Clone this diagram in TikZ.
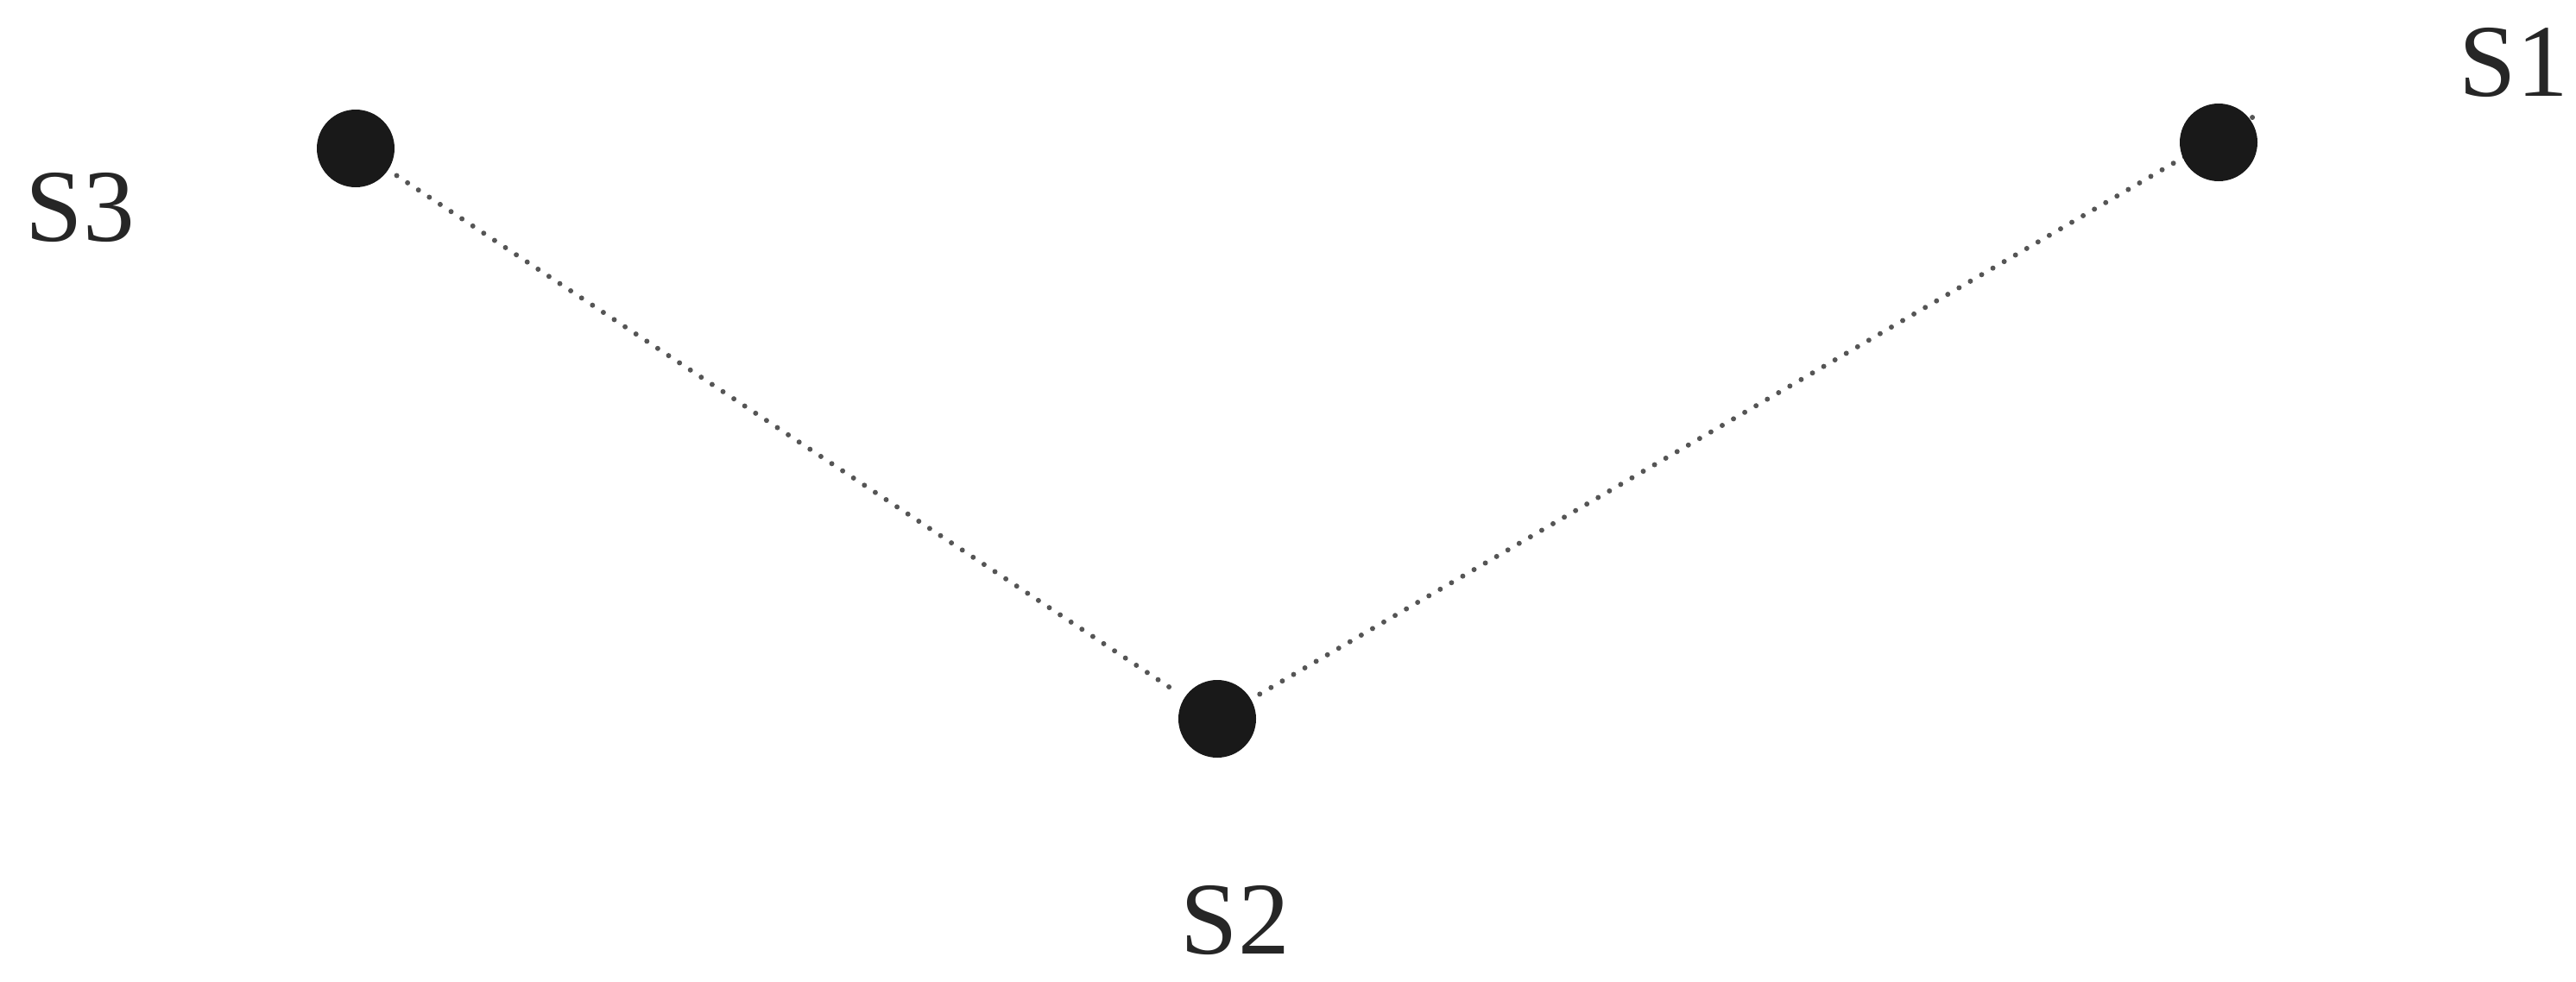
\documentclass[tikz,border=0pt]{standalone}
\usepackage{fontspec}
\setmainfont{Liberation Serif}
\usetikzlibrary{backgrounds}
\definecolor{linkgray}{HTML}{555555}

\begin{document}
\begin{tikzpicture}[
    site/.style={circle, fill=black!90, minimum size=0.9cm, inner sep=0pt, outer sep=0.12cm},
    tag/.style={font=\fontsize{34}{40}\selectfont, text=black!85, inner sep=0pt},
    link/.style={draw=linkgray, line width=1.7pt, line cap=round, dash pattern=on 0pt off 4.3pt}
  ]
  \useasboundingbox (0,0) rectangle (29.84,-11.37);

  \node[site] (s3) at (4.12,-1.72) {};
  \node[site] (s2) at (14.10,-8.33) {};
  \node[site] (s1) at (25.70,-1.65) {};
  \coordinate (s1tip) at (26.16,-1.32);

  \node[tag] (l3) at (0.93,-2.41) {S3};
  \node[tag] (l2) at (14.31,-10.67) {S2};
  \node[tag] (l1) at (29.12,-0.73) {S1};

  \begin{scope}[on background layer]
    \draw[link] (s3) -- (s2);
    \draw[link] (s2) -- (s1tip);
  \end{scope}
\end{tikzpicture}
\end{document}
